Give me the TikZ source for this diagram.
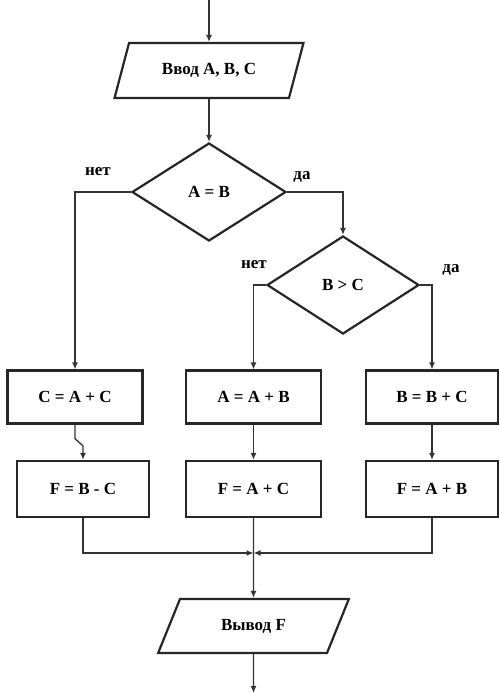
\documentclass[tikz,border=0pt]{standalone}
\usepackage{fontspec}
\setmainfont{Liberation Serif}
\usetikzlibrary{shapes.geometric,arrows.meta,calc}
\begin{document}
\begin{tikzpicture}[x=1pt,y=-1pt,
  font=\fontsize{17}{19}\selectfont\bfseries,
  shp/.style={draw=black!85,line width=2.2pt,fill=white,inner sep=0pt},
  box/.style={shp,rectangle,minimum width=135pt,minimum height=53pt},
  boxb/.style={shp,rectangle,minimum width=132pt,minimum height=56pt},
  dia/.style={shp,diamond,minimum width=154pt,minimum height=98pt},
  para/.style={shp,trapezium,trapezium stretches=true,minimum height=55pt},
  conn/.style={draw=black!80,line width=1.3pt},
  arr/.style={conn,-{Latex[length=7pt,width=6pt]}},
  lab/.style={font=\fontsize{17}{19}\selectfont\bfseries}]
\useasboundingbox (0,0) rectangle (499,693);
\fill[white] (0,0) rectangle (499,693);
\coordinate (start) at (209,0);
\node[para,minimum width=189pt,trapezium left angle=59,trapezium right angle=121] (in) at (209,70.5) {Ввод A, B, C};
\node[dia] (d1) at (209,192) {A = B};
\node[dia,minimum width=152pt] (d2) at (343,285) {B > C};
\node[box] (b1) at (75,397) {C = A + C};
\node[box] (b2) at (253.5,397) {A = A + B};
\node[box,minimum width=132pt] (b3) at (432,397) {B = B + C};
\node[boxb] (c1) at (83,489) {F = B - C};
\node[boxb,minimum width=135pt] (c2) at (253.5,489) {F = A + C};
\node[boxb] (c3) at (432,489) {F = A + B};
\node[para,minimum width=192pt,minimum height=54pt,trapezium left angle=55.6,trapezium right angle=124.4] (out) at (253.5,626) {Вывод F};
\coordinate (end) at (253.5,693);
\coordinate (J) at (253.5,553);
\draw[arr] (start) -- (start |- in.north);
\draw[arr] (in.south -| d1.north) -- (d1.north);
\draw[arr] (d1.west) -| (b1.north);
\draw[arr] (d1.east) -| (d2.north);
\draw[arr] (d2.west) -| (b2.north);
\draw[arr] (d2.east) -| (b3.north);
\draw[arr] (b1.south) -- ++(0,14) -- ($(c1.north)+(0,-14)$) -- (c1.north);
\draw[arr] (b2.south) -- (c2.north);
\draw[arr] (b3.south) -- (c3.north);
\draw[arr] (c1.south) |- (J);
\draw[arr] (c3.south) |- (J);
\draw[arr] (c2.south) -- (out.north);
\draw[arr] (out.south) -- (end);
\node[lab] (l1) at (98,172) {нет};
\node[lab] (l2) at (302,177) {да};
\node[lab] (l3) at (254,265) {нет};
\node[lab] (l4) at (451,270) {да};
\end{tikzpicture}
\end{document}
